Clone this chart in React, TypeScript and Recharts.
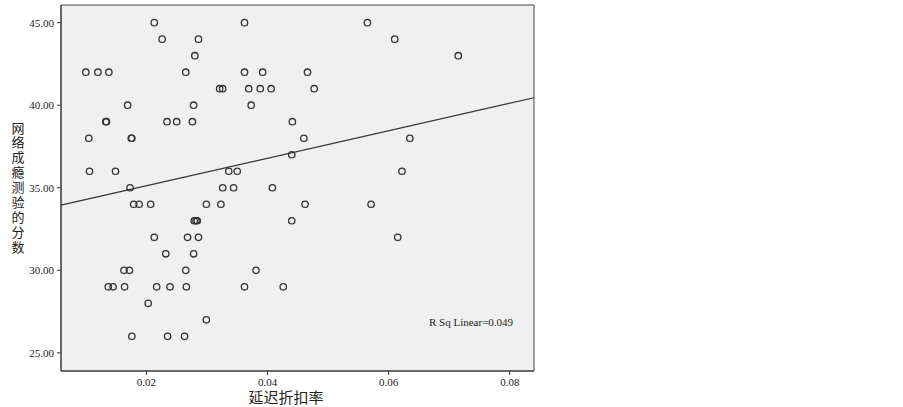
import React from "react";
import {
  ScatterChart,
  Scatter,
  XAxis,
  YAxis,
  ReferenceArea,
  ReferenceLine,
  Label,
} from "recharts";

// 延迟折扣率 (x) and 网络成瘾测验的分数 (y)
const discountRate = [
  0.0213, 0.0362, 0.0565,
  0.0226, 0.0286, 0.061,
  0.028, 0.0715,
  0.01, 0.012, 0.0138, 0.0265, 0.0362, 0.0392, 0.0466,
  0.0321, 0.0326, 0.0369, 0.0388, 0.0406, 0.0477,
  0.0169, 0.0278, 0.0373,
  0.0133, 0.0134, 0.0234, 0.025, 0.0276, 0.0441,
  0.0105, 0.0175, 0.0176, 0.046, 0.0635,
  0.044,
  0.0106, 0.0149, 0.0336, 0.035, 0.0622,
  0.0173, 0.0326, 0.0344, 0.0408,
  0.0179, 0.0188, 0.0207, 0.0299, 0.0323, 0.0462, 0.0571,
  0.0279, 0.0282, 0.0284, 0.044,
  0.0213, 0.0268, 0.0286, 0.0615,
  0.0232, 0.0278,
  0.0163, 0.0172, 0.0265, 0.0381,
  0.0137, 0.0145, 0.0164, 0.0217, 0.0239, 0.0266, 0.0362, 0.0426,
  0.0203,
  0.0299,
  0.0176, 0.0235, 0.0263,
];
const addictionScore = [
  45, 45, 45,
  44, 44, 44,
  43, 43,
  42, 42, 42, 42, 42, 42, 42,
  41, 41, 41, 41, 41, 41,
  40, 40, 40,
  39, 39, 39, 39, 39, 39,
  38, 38, 38, 38, 38,
  37,
  36, 36, 36, 36, 36,
  35, 35, 35, 35,
  34, 34, 34, 34, 34, 34, 34,
  33, 33, 33, 33,
  32, 32, 32, 32,
  31, 31,
  30, 30, 30, 30,
  29, 29, 29, 29, 29, 29, 29, 29,
  28,
  27,
  26, 26, 26,
];

const xTicks = [0.02, 0.04, 0.06, 0.08];
const yTicks = [25, 30, 35, 40, 45];
const xDomain = [0.0059, 0.084];
const yDomain = [23.9, 46.07];
// fit line endpoints (as drawn)
const fitX = [0.0059, 0.084];
const fitY = [33.95, 40.45];
const rSqLabel = "R Sq Linear=0.049";
const xTitle = "延迟折扣率";
const yTitle = "网络成瘾测验的分数";

const points = discountRate.map((x, i) => ({ x, y: addictionScore[i] }));

const serif = "'Liberation Serif', 'Times New Roman', serif";
const cjk = "'Noto Sans CJK SC', sans-serif";

const YTitle = () => (
  <g>
    {yTitle.split("").map((c, i) => (
      <text
        key={i}
        x={18}
        y={132.5 + i * 14.9}
        fill="#222"
        fontSize={13}
        fontFamily={cjk}
        textAnchor="middle"
      >
        {c}
      </text>
    ))}
  </g>
);

const XTitle = () => (
  <text x={286} y={403} fill="#222" fontSize={15} fontFamily={cjk} textAnchor="middle">
    {xTitle}
  </text>
);

const Circle = (props: any) => {
  const { cx, cy } = props;
  if (cx == null || cy == null) return null;
  return <circle cx={cx} cy={cy} r={3.2} fill="none" stroke="#333" strokeWidth={1.3} />;
};

export default function App() {
  return (
    <div style={{ position: "absolute", left: 0, top: 0, width: 903, height: 407, background: "#fff" }}>
      <ScatterChart width={903} height={407} margin={{ top: 5, right: 369, bottom: 0, left: 0 }}>
        <XAxis
          type="number"
          dataKey="x"
          domain={xDomain}
          ticks={xTicks}
          allowDataOverflow
          height={36}
          tickSize={4}
          tickMargin={3}
          stroke="#333"
          tick={{ fill: "#222", fontSize: 11, fontFamily: serif }}
          tickFormatter={(v: number) => v.toFixed(2)}
        >
          <Label content={<XTitle />} />
        </XAxis>
        <YAxis
          type="number"
          dataKey="y"
          domain={yDomain}
          ticks={yTicks}
          allowDataOverflow
          width={61}
          tickSize={4}
          tickMargin={3}
          stroke="#333"
          tick={{ fill: "#222", fontSize: 11, fontFamily: serif }}
          tickFormatter={(v: number) => v.toFixed(2)}
        >
          <Label content={<YTitle />} />
        </YAxis>
        <ReferenceArea
          x1={xDomain[0]}
          x2={xDomain[1]}
          y1={yDomain[0]}
          y2={yDomain[1]}
          fill="#f0f0f0"
          fillOpacity={1}
          stroke="#444"
          strokeWidth={1}
          ifOverflow="visible"
        />
        <ReferenceLine
          segment={[
            { x: fitX[0], y: fitY[0] },
            { x: fitX[1], y: fitY[1] },
          ]}
          stroke="#333"
          strokeWidth={1.2}
          ifOverflow="visible"
        />
        <Scatter data={points} shape={<Circle />} isAnimationActive={false} />
        <ReferenceLine
          x={xDomain[0]}
          stroke="none"
          ifOverflow="visible"
          label={() => (
            <text x={429} y={326} fontSize={11} fontFamily={serif} fill="#222">
              {rSqLabel}
            </text>
          )}
        />
      </ScatterChart>
    </div>
  );
}
